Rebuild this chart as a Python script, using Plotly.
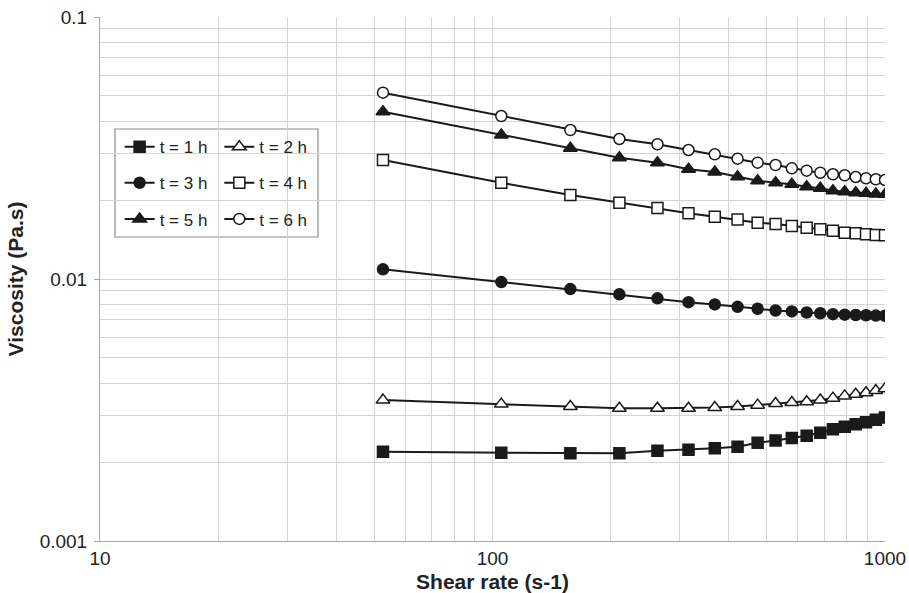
import plotly.graph_objects as go

# Shear rate (s-1), shared by all runs
shear_rate = [52.6, 105.3, 157.9, 210.5, 263.2, 315.8, 368.4, 421.1, 473.7, 526.3,
              578.9, 631.6, 684.2, 736.8, 789.5, 842.1, 894.7, 947.4, 1000.0]

# Viscosity (Pa.s) after each time interval
visc_t1 = [0.00219, 0.00217, 0.00216, 0.00216, 0.00221, 0.00223, 0.00226, 0.00229, 0.00237, 0.00242,
           0.00247, 0.00252, 0.00259, 0.00267, 0.00273, 0.00279, 0.00284, 0.00290, 0.00296]
visc_t2 = [0.00345, 0.00333, 0.00326, 0.00321, 0.00321, 0.00321, 0.00323, 0.00326, 0.00330, 0.00335,
           0.00338, 0.00340, 0.00345, 0.00351, 0.00358, 0.00363, 0.00368, 0.00375, 0.00381]
visc_t3 = [0.01089, 0.00973, 0.00915, 0.00874, 0.00844, 0.00816, 0.00800, 0.00783, 0.00770, 0.00758,
           0.00752, 0.00745, 0.00740, 0.00734, 0.00731, 0.00729, 0.00727, 0.00725, 0.00724]
visc_t4 = [0.02846, 0.02331, 0.02092, 0.01955, 0.01866, 0.01781, 0.01728, 0.01686, 0.01640, 0.01621,
           0.01593, 0.01569, 0.01548, 0.01529, 0.01502, 0.01494, 0.01481, 0.01472, 0.01470]
visc_t5 = [0.04349, 0.03545, 0.03154, 0.02904, 0.02779, 0.02622, 0.02561, 0.02458, 0.02372, 0.02331,
           0.02298, 0.02250, 0.02219, 0.02172, 0.02153, 0.02134, 0.02123, 0.02110, 0.02104]
visc_t6 = [0.05143, 0.04188, 0.03703, 0.03423, 0.03267, 0.03107, 0.02992, 0.02879, 0.02779, 0.02723,
           0.02645, 0.02591, 0.02545, 0.02510, 0.02488, 0.02451, 0.02423, 0.02402, 0.02387]

series_names = ["t = 1 h", "t = 2 h", "t = 3 h", "t = 4 h", "t = 5 h", "t = 6 h"]
series_values = [visc_t1, visc_t2, visc_t3, visc_t4, visc_t5, visc_t6]

INK = "#1a1a1a"
GRID = "#d3d3d3"
TEXT = "#222222"
FONT = "Liberation Sans, Arial, sans-serif"

# marker symbol, fill, size for each run
styles = [
    ("square", INK, 11),
    ("triangle-up", "white", 12),
    ("circle", INK, 11),
    ("square", "white", 11),
    ("triangle-up", INK, 12),
    ("circle", "white", 11),
]
legend_of = ["legend", "legend2", "legend", "legend2", "legend", "legend2"]

fig = go.Figure()
for name, vals, (sym, fill, size), leg in zip(series_names, series_values, styles, legend_of):
    fig.add_trace(go.Scatter(
        x=shear_rate, y=vals, name=name, mode="lines+markers",
        line=dict(color=INK, width=2),
        marker=dict(symbol=sym, size=size, color=fill, line=dict(color=INK, width=1.5)),
        legend=leg, legendgroup=name,
    ))

axis_common = dict(
    type="log", automargin=False,
    showgrid=True, gridcolor=GRID, gridwidth=1,
    minor=dict(dtick="D1", showgrid=True, gridcolor=GRID, gridwidth=1, ticks=""),
    showline=True, linecolor="#a6a6a6", linewidth=1,
    tickcolor="#a6a6a6",
    tickfont=dict(family=FONT, size=19, color=TEXT),
    zeroline=False,
)

fig.update_xaxes(
    **axis_common,
    range=[1, 3], dtick=1, ticks="",
    tickvals=[10, 100, 1000], ticktext=["10", "100", "1000"],
    title=dict(text="<b>Shear rate (s-1)</b>", font=dict(family=FONT, size=21, color=TEXT), standoff=8),
)
fig.update_yaxes(
    **axis_common,
    range=[-3, -1], dtick=1, ticks="outside", ticklen=5, ticklabelstandoff=3,
    tickvals=[0.001, 0.01, 0.1], ticktext=["0.001", "0.01", "0.1"],
    title=dict(text="<b>Viscosity (Pa.s)</b>", font=dict(family=FONT, size=21, color=TEXT), standoff=10),
)

legend_common = dict(
    bgcolor="rgba(0,0,0,0)", borderwidth=0,
    font=dict(family=FONT, size=17, color=TEXT),
    tracegroupgap=11, itemwidth=30,
    xanchor="left", yanchor="top",
)

fig.update_layout(
    width=909, height=593,
    margin=dict(l=100, r=24, t=17, b=52),
    paper_bgcolor="white", plot_bgcolor="white",
    showlegend=True,
    legend=dict(x=0.025, y=0.786, **legend_common),
    legend2=dict(x=0.152, y=0.786, **legend_common),
    shapes=[dict(
        type="rect", xref="paper", yref="paper",
        x0=0.0191, x1=0.2777, y0=0.5802, y1=0.7863,
        line=dict(color="#8c8c8c", width=1.2), fillcolor="white", layer="between",
    )],
)

fig.write_html("out.html")
